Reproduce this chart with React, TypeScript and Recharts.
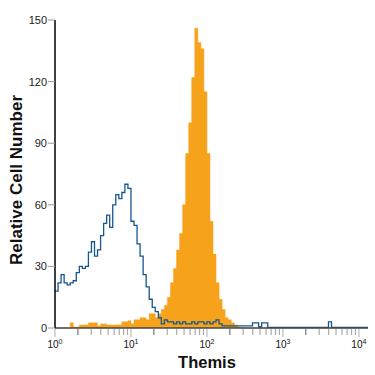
import { Area, ComposedChart, Line, XAxis, YAxis } from "recharts";

// counts per channel, 25 channels per decade (channel 0 = 10^0)
const controlCounts = [
  18, 22, 26, 22, 21, 22, 23, 27, 30, 29,
  30, 37, 42, 35, 38, 45, 51, 55, 49, 60,
  65, 63, 66, 70, 68, 52, 50, 41, 35, 26,
  20, 14, 10, 8, 5, 2, 4, 3, 3, 2,
  3, 2, 3, 2, 2, 3, 2, 3, 3, 2,
  3, 2, 3, 4, 2, 1, 1, 1, 1, 1,
  1, 1, 1, 1, 1, 2.5, 2.5, 0.6, 2.5, 2.5,
  0.3, 0.3, 0.3, 0.3, 0.3, 0.3, 0.3, 0.3, 0.3, 0.3,
  0.3, 0.3, 0.3, 0.3, 0.3, 0.3, 0.3, 0.3, 0.3, 0.3,
  3, 0.3, 0.3, 0.3, 0.3, 0.3, 0.3, 0.3, 0.3, 0.3,
  0.3, 0.3, 0.3, 0,
];

const themisCounts = [
  0, 0, 0, 0, 0, 2.5, 0.5, 0.5, 1.5, 1.5,
  1.5, 2.5, 2.5, 2.5, 1, 2, 2, 1.5, 1.5, 1.5,
  1.5, 1.5, 3, 3, 3.5, 2, 4, 4, 5, 5,
  4, 7, 7, 5, 7, 9, 11, 15, 22, 29,
  38, 46, 60, 85, 100, 122, 146, 139, 136, 115,
  85, 52, 36, 22, 14, 9, 5, 4, 2.5, 1.5,
  0.5, 0, 0, 0, 0, 0, 0, 0, 0, 0,
  0, 0, 0, 0, 0, 0, 0, 0, 0, 0,
  0, 0, 0, 0, 0, 0, 0, 0, 0, 0,
  0, 0, 0, 0, 0, 0, 0, 0, 0, 0,
  0, 0, 0, 0,
];

const decadeExponents = ["0", "1", "2", "3", "4"];
const yTicks = [0, 30, 60, 90, 120, 150];

const CH_PER_DECADE = 25;
const LAST_CH = 103;

const data = controlCounts.map((c, i) => ({
  ch: i,
  control: c,
  themis: themisCounts[i],
}));

const xTicks: number[] = [];
decadeExponents.forEach((_, e) => {
  for (let k = 1; k <= 9; k++) {
    const t = CH_PER_DECADE * (e + Math.log10(k));
    if (t <= LAST_CH) xTicks.push(t);
  }
});

const font = "'Liberation Sans', Arial, sans-serif";

function LogTick({ x, y, payload }: any) {
  const dec = payload.value / CH_PER_DECADE;
  const major = Math.abs(dec - Math.round(dec)) < 1e-6;
  const two = !major && Math.abs(dec - Math.floor(dec) - Math.log10(2)) < 1e-6;
  const stroke = major ? "#bbb" : two ? "#777" : "#aaa";
  const len = major ? 8 : 6;
  return (
    <g>
      <line x1={x} y1={y + 1} x2={x} y2={y + 1 + len} stroke={stroke} strokeWidth={1.2} />
      {major && (
        <text x={x} y={y + 20} textAnchor="middle" fontSize={10} fontFamily={font} fill="#111">
          10
          <tspan dy={-4} fontSize={7}>
            {decadeExponents[Math.round(dec)]}
          </tspan>
        </text>
      )}
    </g>
  );
}

export default function App() {
  return (
    <div style={{ position: "absolute", left: 0, top: 0, width: 375, height: 375, background: "#fff" }}>
      <ComposedChart
        width={375}
        height={375}
        data={data}
        margin={{ top: 20, right: 7, left: 0, bottom: 0 }}
      >
        <XAxis
          type="number"
          dataKey="ch"
          domain={[0, LAST_CH]}
          ticks={xTicks}
          interval={0}
          tickSize={0}
          tickMargin={0}
          tickLine={false}
          tick={<LogTick />}
          height={47}
          axisLine={{ stroke: "#444", strokeWidth: 1.5 }}
          allowDataOverflow
        />
        <YAxis
          type="number"
          domain={[0, 150]}
          ticks={yTicks}
          interval={0}
          width={55}
          tickSize={7}
          tickMargin={1}
          tickLine={{ stroke: "#999" }}
          axisLine={{ stroke: "#000", strokeWidth: 1.5 }}
          tick={{ fontSize: 11, fill: "#222", fontFamily: font }}
        />
        <Area
          type="stepAfter"
          dataKey="themis"
          stroke="#F7A21B"
          strokeWidth={0.5}
          fill="#F7A21B"
          fillOpacity={1}
          isAnimationActive={false}
        />
        <Line
          type="stepAfter"
          dataKey="control"
          stroke="#17568F"
          strokeWidth={1.3}
          dot={false}
          isAnimationActive={false}
        />
      </ComposedChart>
      <svg
        width={375}
        height={375}
        style={{ position: "absolute", left: 0, top: 0, pointerEvents: "none" }}
      >
        <text
          transform="translate(22,180) rotate(-90)"
          textAnchor="middle"
          fontSize={17}
          fontWeight="bold"
          fontFamily={font}
          fill="#111"
        >
          Relative Cell Number
        </text>
        <text x={207} y={368} textAnchor="middle" fontSize={16.5} fontWeight="bold" fontFamily={font} fill="#111">
          Themis
        </text>
      </svg>
    </div>
  );
}
